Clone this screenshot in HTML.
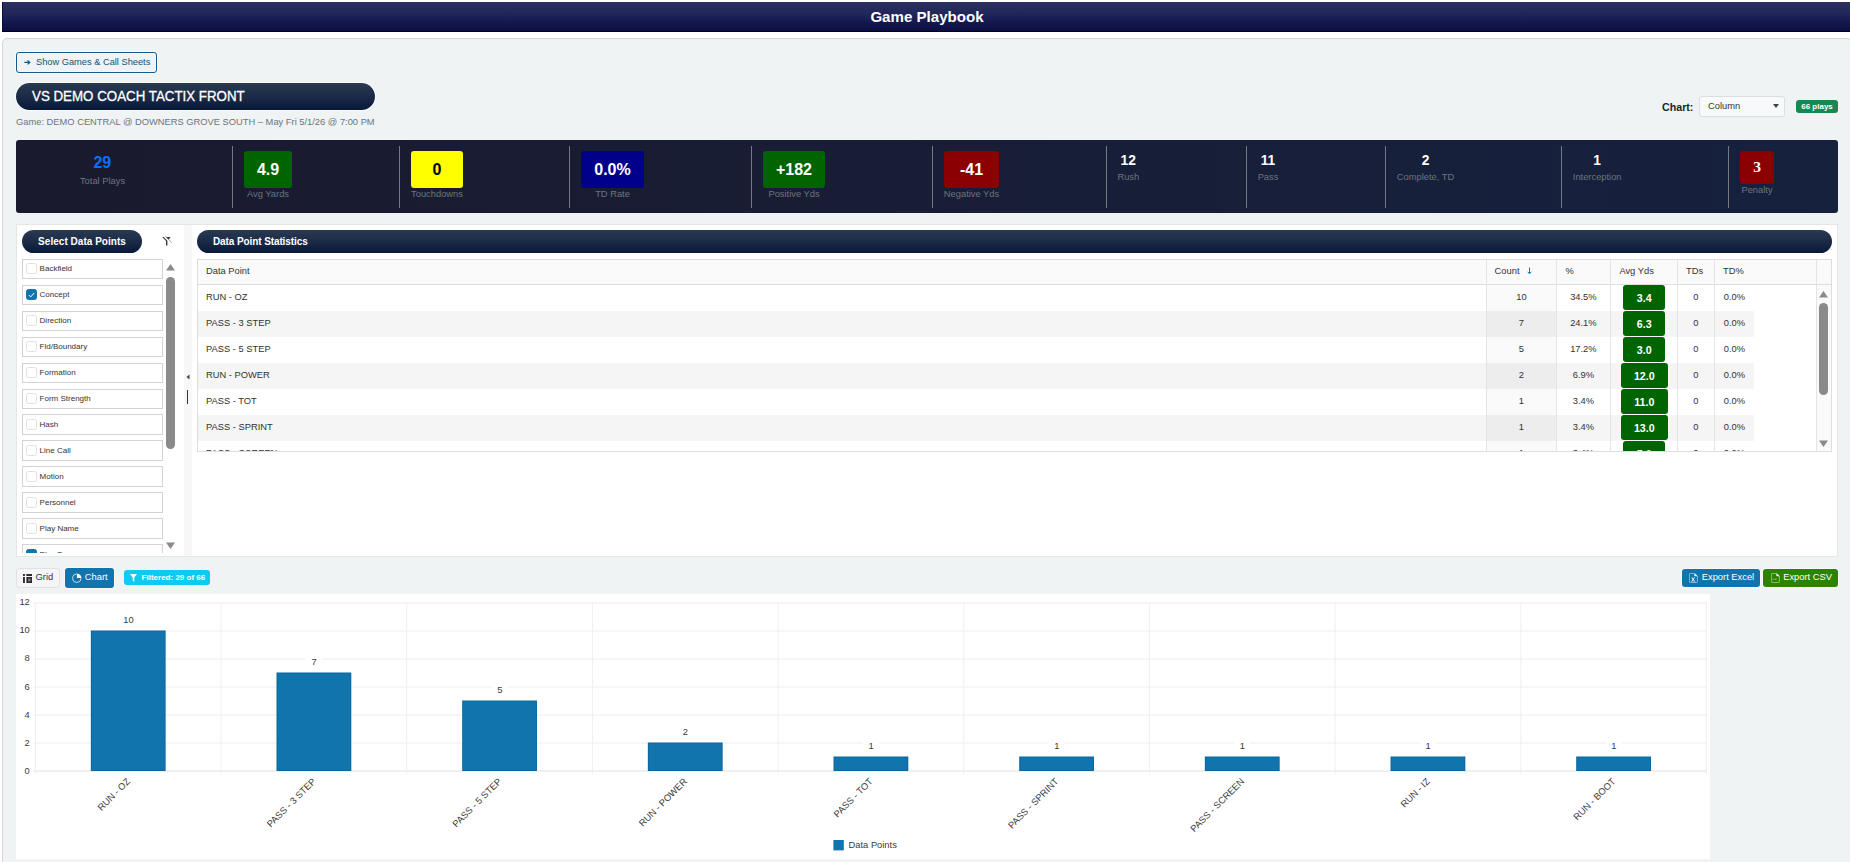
<!DOCTYPE html><html><head><meta charset="utf-8"><title>Game Playbook</title><style>
*{box-sizing:border-box;margin:0;padding:0}
html,body{width:1850px;height:862px;overflow:hidden;background:#fff;font-family:"Liberation Sans",sans-serif;color:#333}
.a{position:absolute}
#hdr{left:2px;top:2px;width:1850px;height:30px;background:linear-gradient(#2c3061,#222859 35%,#141a50 68%,#090e46);box-shadow:inset 1px 0 0 #080c42;border-bottom:1px solid #000;color:#fff;font-weight:700;font-size:15.1px;line-height:29px;text-align:center}
#panel{left:2px;top:38px;width:1850px;height:840px;background:#eff3f4;border:1px solid #d4d7d9;border-radius:5px}
#showbtn{left:16px;top:52px;width:141px;height:21px;border:1px solid #125c8a;border-radius:3px;color:#0d5480;box-shadow:0 0 0 1px rgba(255,255,255,.5),inset 0 0 0 1px rgba(255,255,255,.3);font-size:9.27px;line-height:19px;white-space:nowrap}
.pill{background:linear-gradient(#2b3951,#1b2b47 50%,#07183a);border-radius:14px;color:#fff;font-weight:700;white-space:nowrap;box-shadow:0 0 0 1px rgba(255,255,255,.8)}
#title{left:16px;top:83px;width:359px;height:27px;font-size:13.33px;font-weight:400;line-height:27px;padding-left:16px}
#title span{display:inline-block;font-size:14.3px;transform:scaleX(.932);transform-origin:0 50%;position:relative;top:-0.2px;-webkit-text-stroke:0.3px #fff}
#sub{left:16px;top:115.7px;font-size:9.33px;color:#6c757d;white-space:nowrap;line-height:12px}
#stats{left:16px;top:140px;width:1822px;height:73px;border-radius:3px;background:linear-gradient(90deg,#1a1a2e,#16213e)}
.sep{position:absolute;top:146px;width:1px;height:62px;background:#757881}
.bd{position:absolute;top:151px;height:37px;border-radius:3px;color:#fff;font-weight:700;font-size:16px;line-height:37px;text-align:center}
.lb{position:absolute;font-size:9.33px;color:#6c757d;white-space:nowrap;text-align:center;line-height:12px;transform:translateX(-50%)}
.nm{position:absolute;font-size:13.8px;font-weight:700;color:#fff;white-space:nowrap;line-height:14px;margin-top:1px;transform:translateX(-50%)}

#split{left:16px;top:224px;width:1822px;height:333px;background:#fff;border:1px solid #e6e6e6}
#sbar{left:184px;top:225px;width:8px;height:331px;background:#f7f7f7}
.li{position:absolute;left:22px;width:141px;height:20px;border:1px solid #d3d3d3;background:#fff;font-size:8px;line-height:17px;color:#333;white-space:nowrap}
.li .cb{position:absolute;left:3px;top:3.7px;width:10.67px;height:10.67px;border:1px solid #dfe1e3;border-radius:2.5px;background:#fff}
.li .cb.on{background:#1274ac;border-color:#1274ac}
.li span{position:absolute;left:16.6px;top:0}
#grid{left:197px;top:259px;width:1635px;height:193px;border:1px solid #dedede;background:#fff;overflow:hidden}
#ghead{left:0;top:0;width:1633px;height:25px;background:#fafafa;border-bottom:1px solid #dedede}
.hc{position:absolute;top:0;height:24px;font-size:9.33px;line-height:22.8px;color:#333;white-space:nowrap}
.vl{position:absolute;width:1px;background:#e4e4e4}
.row{position:absolute;left:0;width:1556px;height:26px}
.row.alt{background:#f5f5f5}
.c{position:absolute;top:0;height:26px;line-height:24.3px;font-size:9.33px;color:#333;white-space:nowrap;text-align:center}
.ab{position:absolute;top:0;height:25px;border-radius:3px;background:#006400;color:#fff;font-weight:700;font-size:10.67px;line-height:27px;text-align:center}

.tb{position:absolute;height:20px;border-radius:3px;font-size:9.33px;line-height:17px;white-space:nowrap}
</style></head><body><div id="hdr" class="a">Game Playbook</div>
<div id="panel" class="a"></div>
<div id="showbtn" class="a"><span class="a" style="left:19px;top:0">Show Games &amp; Call Sheets</span><svg class="a" style="left:6.9px;top:6.9px" width="7" height="5" viewBox="0 0 7 5"><path d="M0.3 2.4H5.2M3.5 0.4L5.8 2.4L3.5 4.4" stroke="#115a87" stroke-width="1.25" fill="none"/></svg></div>
<div id="title" class="a pill"><span>VS DEMO COACH TACTIX FRONT</span></div>
<div id="sub" class="a">Game: DEMO CENTRAL @ DOWNERS GROVE SOUTH – May Fri 5/1/26 @ 7:00 PM</div>
<div class="a" style="left:1662px;top:101px;font-size:10.67px;font-weight:700;color:#212529;line-height:13px">Chart:</div>
<div class="a" style="left:1699px;top:96px;width:86px;height:21px;border:1px solid #dcdfe1;border-radius:3px;background:#f8f9fa;font-size:9.33px;line-height:18px;padding-left:8px;color:#333">Column<svg class="a" style="left:73px;top:7px" width="6" height="4" viewBox="0 0 6 4"><path d="M0 0H6L3 4Z" fill="#444"/></svg></div>
<div class="a" style="left:1796px;top:100px;width:42px;height:13px;border-radius:3px;background:#198754;color:#fff;font-size:8px;font-weight:700;line-height:13px;text-align:center">66 plays</div>
<div id="stats" class="a"></div>
<div class="sep" style="left:232px"></div>
<div class="sep" style="left:399px"></div>
<div class="sep" style="left:569px"></div>
<div class="sep" style="left:751px"></div>
<div class="sep" style="left:932px"></div>
<div class="sep" style="left:1106px"></div>
<div class="sep" style="left:1246px"></div>
<div class="sep" style="left:1385px"></div>
<div class="sep" style="left:1561px"></div>
<div class="sep" style="left:1728px"></div>
<div class="a" style="left:102.3px;top:154.2px;font-size:16px;font-weight:700;color:#0d6efd;line-height:18px;transform:translateX(-50%)">29</div>
<div class="lb" style="left:102.5px;top:174.7px">Total Plays</div>
<div class="bd" style="left:244px;width:48px;background:#006400;color:#fff">4.9</div>
<div class="lb" style="left:268.0px;top:188px">Avg Yards</div>
<div class="bd" style="left:411px;width:52px;background:#ffff00;color:#000">0</div>
<div class="lb" style="left:437.0px;top:188px">Touchdowns</div>
<div class="bd" style="left:581px;width:63px;background:#00008b;color:#fff">0.0%</div>
<div class="lb" style="left:612.5px;top:188px">TD Rate</div>
<div class="bd" style="left:763px;width:62px;background:#006400;color:#fff">+182</div>
<div class="lb" style="left:794.0px;top:188px">Positive Yds</div>
<div class="bd" style="left:944px;width:55px;background:#8b0000;color:#fff">-41</div>
<div class="lb" style="left:971.5px;top:188px">Negative Yds</div>
<div class="nm" style="left:1128.3px;top:153px">12</div>
<div class="lb" style="left:1128.3px;top:171px">Rush</div>
<div class="nm" style="left:1268px;top:153px">11</div>
<div class="lb" style="left:1268px;top:171px">Pass</div>
<div class="nm" style="left:1425.5px;top:153px">2</div>
<div class="lb" style="left:1425.5px;top:171px">Complete, TD</div>
<div class="nm" style="left:1597.2px;top:153px">1</div>
<div class="lb" style="left:1597.2px;top:171px">Interception</div>
<div class="bd" style="left:1740px;width:34px;height:33px;background:#8b0000;font-family:'Liberation Serif',serif;font-size:15.5px;line-height:32px">3</div>
<div class="lb" style="left:1757px;top:184px">Penalty</div>
<div id="split" class="a"></div>
<div id="sbar" class="a"></div>
<svg class="a" style="left:186px;top:374px" width="4" height="6" viewBox="0 0 4 6"><path d="M3.5 0.5V5.5L0.5 3Z" fill="#444"/></svg>
<div class="a" style="left:187px;top:390px;width:1px;height:14px;background:#333"></div>
<div class="a pill" style="left:22px;top:230px;width:120px;height:23px;font-size:10px;line-height:24.3px;text-align:center;letter-spacing:0.03px">Select Data Points</div>
<svg class="a" style="left:160px;top:234px" width="14" height="14" viewBox="0 0 14 14"><path d="M2.2 3.1H10.7L7.4 7V11.2L6 11.8V7Z" fill="#3a3a3a"/><path d="M3.5 1.6L11 9.1" stroke="#fff" stroke-width="1.5"/><path d="M5.3 2.2L11.8 8.7" stroke="#666" stroke-width="0.6"/></svg>
<div class="a pill" style="left:197px;top:230px;width:1635px;height:23px;font-size:10px;line-height:24.3px;padding-left:16px;letter-spacing:-0.1px">Data Point Statistics</div>
<div class="a" style="left:16px;top:255px;width:168px;height:298px;overflow:hidden"><div class="a" style="left:-16px;top:-255px">
<div class="li" style="top:259px;height:20px"><div class="cb" style="top:3.2px"></div><span>Backfield</span></div>
<div class="li" style="top:285px;height:20px"><div class="cb on" style="top:3.2px"><svg style="position:absolute;left:1px;top:1.5px" width="7" height="6" viewBox="0 0 7 6"><path d="M0.8 3L2.7 4.9L6.2 1" stroke="#fff" stroke-width="1" fill="none"/></svg></div><span>Concept</span></div>
<div class="li" style="top:311px;height:20px"><div class="cb" style="top:3.2px"></div><span>Direction</span></div>
<div class="li" style="top:337px;height:20px"><div class="cb" style="top:3.2px"></div><span>Fld/Boundary</span></div>
<div class="li" style="top:363px;height:20px"><div class="cb" style="top:3.2px"></div><span>Formation</span></div>
<div class="li" style="top:389px;height:20px"><div class="cb" style="top:3.2px"></div><span>Form Strength</span></div>
<div class="li" style="top:414px;height:21px;line-height:19px"><div class="cb" style="top:4.3px"></div><span>Hash</span></div>
<div class="li" style="top:440px;height:21px;line-height:19px"><div class="cb" style="top:4.3px"></div><span>Line Call</span></div>
<div class="li" style="top:466px;height:21px;line-height:19px"><div class="cb" style="top:4.3px"></div><span>Motion</span></div>
<div class="li" style="top:492px;height:21px;line-height:19px"><div class="cb" style="top:4.3px"></div><span>Personnel</span></div>
<div class="li" style="top:518px;height:21px;line-height:19px"><div class="cb" style="top:4.3px"></div><span>Play Name</span></div>
<div class="li" style="top:544px;height:21px;line-height:19px"><div class="cb on" style="top:4.3px"><svg style="position:absolute;left:1px;top:1.5px" width="7" height="6" viewBox="0 0 7 6"><path d="M0.8 3L2.7 4.9L6.2 1" stroke="#fff" stroke-width="1" fill="none"/></svg></div><span>Play Type</span></div>
</div></div>
<svg class="a" style="left:166px;top:264px" width="9" height="7" viewBox="0 0 9 7"><path d="M0 6.5L4.5 0L9 6.5Z" fill="#8a8a8a"/></svg>
<div class="a" style="left:166px;top:277px;width:9px;height:172px;border-radius:4.5px;background:#8a8a8a"></div>
<svg class="a" style="left:166px;top:542px" width="9" height="7" viewBox="0 0 9 7"><path d="M0 0.5L4.5 7L9 0.5Z" fill="#8a8a8a"/></svg>
<div id="grid" class="a"><div id="ghead" class="a"><div class="hc" style="left:8px">Data Point</div><div class="hc" style="left:1296.6px">Count</div><div class="hc" style="left:1367.6px">%</div><div class="hc" style="left:1421.4px">Avg Yds</div><div class="hc" style="left:1488px">TDs</div><div class="hc" style="left:1525px">TD%</div><svg class="a" style="left:1328.5px;top:7.4px" width="5" height="8" viewBox="0 0 5 8"><path d="M2.5 0.5V6.5M0.7 4.8L2.5 6.8L4.3 4.8" stroke="#1274ac" stroke-width="1" fill="none"/></svg></div><div class="row" style="top:25px"><div class="a" style="left:1289px;top:0;width:69.5px;height:26px;background:#fafafa"></div><div class="c" style="left:8px;text-align:left">RUN - OZ</div><div class="c" style="left:1288.4px;width:70px">10</div><div class="c" style="left:1358.4px;width:54px">34.5%</div><div class="ab" style="left:1425.2px;width:42.2px">3.4</div><div class="c" style="left:1479.4px;width:37px">0</div><div class="c" style="left:1516.4px;width:40px">0.0%</div></div><div class="row alt" style="top:51px"><div class="a" style="left:1289px;top:0;width:69.5px;height:26px;background:#ededed"></div><div class="c" style="left:8px;text-align:left">PASS - 3 STEP</div><div class="c" style="left:1288.4px;width:70px">7</div><div class="c" style="left:1358.4px;width:54px">24.1%</div><div class="ab" style="left:1425.2px;width:42.2px">6.3</div><div class="c" style="left:1479.4px;width:37px">0</div><div class="c" style="left:1516.4px;width:40px">0.0%</div></div><div class="row" style="top:77px"><div class="a" style="left:1289px;top:0;width:69.5px;height:26px;background:#fafafa"></div><div class="c" style="left:8px;text-align:left">PASS - 5 STEP</div><div class="c" style="left:1288.4px;width:70px">5</div><div class="c" style="left:1358.4px;width:54px">17.2%</div><div class="ab" style="left:1425.2px;width:42.2px">3.0</div><div class="c" style="left:1479.4px;width:37px">0</div><div class="c" style="left:1516.4px;width:40px">0.0%</div></div><div class="row alt" style="top:103px"><div class="a" style="left:1289px;top:0;width:69.5px;height:26px;background:#ededed"></div><div class="c" style="left:8px;text-align:left">RUN - POWER</div><div class="c" style="left:1288.4px;width:70px">2</div><div class="c" style="left:1358.4px;width:54px">6.9%</div><div class="ab" style="left:1422.8999999999999px;width:46.8px">12.0</div><div class="c" style="left:1479.4px;width:37px">0</div><div class="c" style="left:1516.4px;width:40px">0.0%</div></div><div class="row" style="top:129px"><div class="a" style="left:1289px;top:0;width:69.5px;height:26px;background:#fafafa"></div><div class="c" style="left:8px;text-align:left">PASS - TOT</div><div class="c" style="left:1288.4px;width:70px">1</div><div class="c" style="left:1358.4px;width:54px">3.4%</div><div class="ab" style="left:1422.8999999999999px;width:46.8px">11.0</div><div class="c" style="left:1479.4px;width:37px">0</div><div class="c" style="left:1516.4px;width:40px">0.0%</div></div><div class="row alt" style="top:155px"><div class="a" style="left:1289px;top:0;width:69.5px;height:26px;background:#ededed"></div><div class="c" style="left:8px;text-align:left">PASS - SPRINT</div><div class="c" style="left:1288.4px;width:70px">1</div><div class="c" style="left:1358.4px;width:54px">3.4%</div><div class="ab" style="left:1422.8999999999999px;width:46.8px">13.0</div><div class="c" style="left:1479.4px;width:37px">0</div><div class="c" style="left:1516.4px;width:40px">0.0%</div></div><div class="row" style="top:181px"><div class="a" style="left:1289px;top:0;width:69.5px;height:26px;background:#fafafa"></div><div class="c" style="left:8px;text-align:left">PASS - SCREEN</div><div class="c" style="left:1288.4px;width:70px">1</div><div class="c" style="left:1358.4px;width:54px">3.4%</div><div class="ab" style="left:1425.2px;width:42.2px">5.0</div><div class="c" style="left:1479.4px;width:37px">0</div><div class="c" style="left:1516.4px;width:40px">0.0%</div></div><div class="vl" style="left:1288.0px;top:0;height:192px"></div><div class="vl" style="left:1358.0px;top:0;height:192px"></div><div class="vl" style="left:1412.0px;top:0;height:192px"></div><div class="vl" style="left:1479.0px;top:0;height:192px"></div><div class="vl" style="left:1516.0px;top:0;height:192px"></div><div class="vl" style="left:1618.0px;top:0;height:192px"></div><div class="a" style="left:1619px;top:25px;width:14px;height:167px;background:#fafafa"></div><svg class="a" style="left:1621.3px;top:30.5px" width="9" height="7" viewBox="0 0 9 7"><path d="M0 6.5L4.5 0L9 6.5Z" fill="#8a8a8a"/></svg><div class="a" style="left:1621.3px;top:43px;width:9px;height:92px;border-radius:4.5px;background:#8a8a8a"></div><svg class="a" style="left:1621.3px;top:180px" width="9" height="7" viewBox="0 0 9 7"><path d="M0 0.5L4.5 7L9 0.5Z" fill="#8a8a8a"/></svg></div>
<div class="tb" style="left:16px;top:568px;width:44px;border:1px solid #e1e2e3;background:#f5f5f5;color:#333"><svg class="a" style="left:5.8px;top:4.9px" width="9.2" height="9" viewBox="0 0 9.2 9"><path d="M0 0H1.9V1.9H0ZM3.4 0H9.1V1.9H3.4ZM0 2.9H1.9V8.9H0ZM3.4 2.9H9.1V8.9H3.4Z" fill="#2d2d2d"/><rect x="5.2" y="4.6" width="2.2" height="2.6" fill="#8a8a8a"/></svg><span class="a" style="left:18.6px;top:0">Grid</span></div>
<div class="tb" style="left:65px;top:568px;width:49px;background:#1274ac;color:#fff;box-shadow:0 0 0 1px #faf8f3"><svg class="a" style="left:6.5px;top:5.2px" width="10" height="10" viewBox="0 0 10 10"><circle cx="4.8" cy="5.2" r="4.1" stroke="#fff" stroke-opacity=".85" stroke-width="0.9" fill="none"/><path d="M4.9 0.7A4.4 4.4 0 0 1 9.3 5.1H4.9Z" fill="#fff"/><path d="M4.5 1.5V5.5H8.5" stroke="#1274ac" stroke-width="0.5" fill="none"/></svg><span class="a" style="left:19.8px;top:1px">Chart</span></div>
<div class="a" style="left:124px;top:570px;width:86px;height:15px;border-radius:3px;background:#0dcaf0;color:#fff;font-size:8px;font-weight:700;line-height:15px;white-space:nowrap"><svg class="a" style="left:6.3px;top:4px" width="7" height="8" viewBox="0 0 7 8"><path d="M0 0H7L4.3 3.4V8L2.7 6.8V3.4Z" fill="#fff"/></svg><span class="a" style="left:17.6px;top:0">Filtered: 29 of 66</span></div>
<div class="tb" style="left:1682px;top:569px;width:78px;height:18px;background:#1274ac;color:#fff;line-height:16px;box-shadow:0 0 0 1px #faf8f3"><svg class="a" style="left:7px;top:4.3px" width="9" height="10" viewBox="0 0 9 10"><path d="M1.2 0.4H5.6L8.4 3V8.6Q8.4 9.6 7.4 9.6H1.4Q0.4 9.6 0.4 8.6V1.4Q0.4 0.4 1.2 0.4Z" stroke="#fff" stroke-opacity=".6" stroke-width="0.8" fill="none"/><path d="M5.4 0.2L8.6 3.2H6.2Q5.4 3.2 5.4 2.4Z" fill="#fff"/><path d="M2.9 4.4L5.5 8.2M5.5 4.4L2.9 8.2" stroke="#fff" stroke-width="1"/><path d="M1.8 8.9H6.6" stroke="#fff" stroke-opacity=".7" stroke-width="0.6"/></svg><span class="a" style="left:19.8px;top:0">Export Excel</span></div>
<div class="tb" style="left:1763px;top:569px;width:75px;height:18px;background:#2b8400;color:#fff;line-height:16px;box-shadow:0 0 0 1px #faf8fb"><svg class="a" style="left:8px;top:4.3px" width="9" height="10" viewBox="0 0 9 10"><path d="M1.2 0.4H5.6L8.4 3V8.6Q8.4 9.6 7.4 9.6H1.4Q0.4 9.6 0.4 8.6V1.4Q0.4 0.4 1.2 0.4Z" stroke="#fff" stroke-opacity=".6" stroke-width="0.8" fill="none"/><path d="M5.4 0.2L8.6 3.2H6.2Q5.4 3.2 5.4 2.4Z" fill="#fff"/><path d="M2 5.2V7M3.6 5.6L4.2 7L5 5.4L5.8 6.6" stroke="#fff" stroke-opacity=".45" stroke-width="0.7" fill="none"/></svg><span class="a" style="left:20.2px;top:0">Export CSV</span></div>
<svg class="a" style="left:0;top:0" width="1850" height="862" viewBox="0 0 1850 862" font-family="Liberation Sans, sans-serif" font-size="9.33" fill="#3a3a3a"><rect x="16" y="594" width="1694" height="265" fill="#fff"/><rect x="33.199999999999996" y="742.50" width="1673.23" height="1" fill="#eeeeee"/><rect x="33.199999999999996" y="714.50" width="1673.23" height="1" fill="#eeeeee"/><rect x="33.199999999999996" y="686.50" width="1673.23" height="1" fill="#eeeeee"/><rect x="33.199999999999996" y="658.50" width="1673.23" height="1" fill="#eeeeee"/><rect x="33.199999999999996" y="630.50" width="1673.23" height="1" fill="#eeeeee"/><rect x="33.199999999999996" y="602.50" width="1673.23" height="1" fill="#eeeeee"/><rect x="34.90" y="602.5" width="1" height="171.5" fill="#f0f0f0"/><rect x="220.57" y="602.5" width="1" height="171.5" fill="#f0f0f0"/><rect x="406.24" y="602.5" width="1" height="171.5" fill="#f0f0f0"/><rect x="591.91" y="602.5" width="1" height="171.5" fill="#f0f0f0"/><rect x="777.58" y="602.5" width="1" height="171.5" fill="#f0f0f0"/><rect x="963.25" y="602.5" width="1" height="171.5" fill="#f0f0f0"/><rect x="1148.92" y="602.5" width="1" height="171.5" fill="#f0f0f0"/><rect x="1334.59" y="602.5" width="1" height="171.5" fill="#f0f0f0"/><rect x="1520.26" y="602.5" width="1" height="171.5" fill="#f0f0f0"/><rect x="1705.93" y="602.5" width="1" height="171.5" fill="#f0f0f0"/><rect x="33.199999999999996" y="770.4" width="1673.23" height="1.2" fill="#e6e6e6"/><text x="29.8" y="774" text-anchor="end">0</text><text x="29.8" y="746" text-anchor="end">2</text><text x="29.8" y="718" text-anchor="end">4</text><text x="29.8" y="690" text-anchor="end">6</text><text x="29.8" y="661" text-anchor="end">8</text><text x="29.8" y="633" text-anchor="end">10</text><text x="29.8" y="605" text-anchor="end">12</text><rect x="90.83" y="630.50" width="74.8" height="140.50" fill="#0b679e"/><rect x="91.83" y="631.50" width="72.8" height="138.50" fill="#1274ac"/><rect x="120.23499999999999" y="614.5" width="16" height="10" fill="#fff"/><text x="128.43" y="622.60" text-anchor="middle">10</text><text x="130.73" y="782.0" text-anchor="end" transform="rotate(-45 130.73 782.0)">RUN - OZ</text><rect x="276.50" y="672.50" width="74.8" height="98.50" fill="#0b679e"/><rect x="277.50" y="673.50" width="72.8" height="96.50" fill="#1274ac"/><rect x="305.905" y="656.5" width="16" height="10" fill="#fff"/><text x="314.10" y="664.60" text-anchor="middle">7</text><text x="316.40" y="782.0" text-anchor="end" transform="rotate(-45 316.40 782.0)">PASS - 3 STEP</text><rect x="462.17" y="700.50" width="74.8" height="70.50" fill="#0b679e"/><rect x="463.17" y="701.50" width="72.8" height="68.50" fill="#1274ac"/><rect x="491.57499999999993" y="684.5" width="16" height="10" fill="#fff"/><text x="499.77" y="692.60" text-anchor="middle">5</text><text x="502.07" y="782.0" text-anchor="end" transform="rotate(-45 502.07 782.0)">PASS - 5 STEP</text><rect x="647.84" y="742.50" width="74.8" height="28.50" fill="#0b679e"/><rect x="648.84" y="743.50" width="72.8" height="26.50" fill="#1274ac"/><rect x="677.2449999999999" y="726.5" width="16" height="10" fill="#fff"/><text x="685.44" y="734.60" text-anchor="middle">2</text><text x="687.74" y="782.0" text-anchor="end" transform="rotate(-45 687.74 782.0)">RUN - POWER</text><rect x="833.51" y="756.50" width="74.8" height="14.50" fill="#0b679e"/><rect x="834.51" y="757.50" width="72.8" height="12.50" fill="#1274ac"/><rect x="862.915" y="740.5" width="16" height="10" fill="#fff"/><text x="871.12" y="748.60" text-anchor="middle">1</text><text x="873.41" y="782.0" text-anchor="end" transform="rotate(-45 873.41 782.0)">PASS - TOT</text><rect x="1019.19" y="756.50" width="74.8" height="14.50" fill="#0b679e"/><rect x="1020.19" y="757.50" width="72.8" height="12.50" fill="#1274ac"/><rect x="1048.585" y="740.5" width="16" height="10" fill="#fff"/><text x="1056.79" y="748.60" text-anchor="middle">1</text><text x="1059.09" y="782.0" text-anchor="end" transform="rotate(-45 1059.09 782.0)">PASS - SPRINT</text><rect x="1204.86" y="756.50" width="74.8" height="14.50" fill="#0b679e"/><rect x="1205.86" y="757.50" width="72.8" height="12.50" fill="#1274ac"/><rect x="1234.255" y="740.5" width="16" height="10" fill="#fff"/><text x="1242.46" y="748.60" text-anchor="middle">1</text><text x="1244.76" y="782.0" text-anchor="end" transform="rotate(-45 1244.76 782.0)">PASS - SCREEN</text><rect x="1390.52" y="756.50" width="74.8" height="14.50" fill="#0b679e"/><rect x="1391.52" y="757.50" width="72.8" height="12.50" fill="#1274ac"/><rect x="1419.925" y="740.5" width="16" height="10" fill="#fff"/><text x="1428.12" y="748.60" text-anchor="middle">1</text><text x="1430.42" y="782.0" text-anchor="end" transform="rotate(-45 1430.42 782.0)">RUN - IZ</text><rect x="1576.19" y="756.50" width="74.8" height="14.50" fill="#0b679e"/><rect x="1577.19" y="757.50" width="72.8" height="12.50" fill="#1274ac"/><rect x="1605.595" y="740.5" width="16" height="10" fill="#fff"/><text x="1613.80" y="748.60" text-anchor="middle">1</text><text x="1616.10" y="782.0" text-anchor="end" transform="rotate(-45 1616.10 782.0)">RUN - BOOT</text><rect x="833.4" y="840" width="10.4" height="10.4" fill="#1274ac"/><text x="848.6" y="848.4">Data Points</text></svg></body></html>
